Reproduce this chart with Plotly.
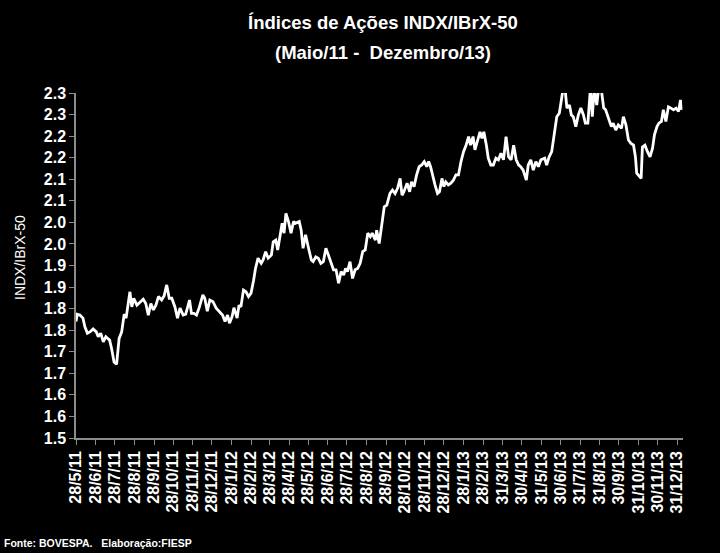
import pandas as pd
import plotly.graph_objects as go

# ---------------- data ----------------
start_date = "2011-05-28"

# calendar days elapsed since start_date for each observation
day_offsets = [
    0, 2, 6, 11, 14, 18, 22, 27, 32, 35, 39, 43, 47, 53, 56, 60, 64, 68, 72, 76,
    79, 82, 85, 88, 91, 96, 101, 106, 110, 114, 118, 122, 126, 130, 135, 139, 143, 147, 151, 156,
    160, 164, 169, 173, 179, 182, 186, 190, 194, 200, 203, 207, 211, 216, 221, 226, 231, 235, 239, 242,
    246, 249,
    254, 257, 260, 264, 268, 272, 276, 280, 283, 287, 292, 295, 299, 303, 308, 311, 315, 318, 322, 325,
    328, 331, 335, 339, 343, 346, 352, 355, 358, 362, 366, 371, 374, 378, 382, 386, 390, 394, 398, 402,
    406, 410, 414, 418, 422, 425, 428, 432, 436, 440, 444, 448, 452, 456, 460, 464, 467, 472, 474, 478,
    482, 486, 490,
    495, 499, 503, 507, 511, 514, 517, 522, 526, 529, 533, 537, 541, 545, 549, 553, 556, 559, 563, 566,
    570, 573, 577, 580, 583, 587, 591, 595, 599, 603, 607, 611, 615, 619, 622, 626, 629, 633, 637, 640,
    643, 647, 650, 654, 658, 662, 666, 670, 674, 678, 682, 686, 690, 694, 698, 701, 705, 710, 713, 717,
    721, 725, 729, 733,
    739, 742, 746, 750, 754, 758, 762, 765, 768, 771, 774, 778, 781, 784, 788, 792, 796, 800, 803, 807,
    811, 814, 817, 821, 824, 828, 832, 835, 839, 844, 847, 851, 855, 860, 863, 867, 871, 875, 879, 882,
    884, 888, 891, 893, 897, 901, 905, 909, 912, 916, 919, 923, 926, 930, 934, 938, 942, 946, 950, 953,
    954,
]

index_values = [
    1.770, 1.787, 1.785, 1.778, 1.758, 1.743, 1.746, 1.753, 1.746, 1.735, 1.743, 1.723, 1.735, 1.727, 1.708, 1.676, 1.671, 1.731, 1.746, 1.787,
    1.778, 1.812, 1.839, 1.804, 1.824, 1.808, 1.816, 1.822, 1.812, 1.785, 1.812, 1.797, 1.808, 1.828, 1.820, 1.830, 1.855, 1.824, 1.824, 1.804,
    1.778, 1.801, 1.785, 1.787, 1.820, 1.789, 1.789, 1.785, 1.801, 1.832, 1.824, 1.794, 1.820, 1.816, 1.801, 1.793, 1.785, 1.770, 1.785, 1.766,
    1.781, 1.802,
    1.778, 1.808, 1.804, 1.843, 1.839, 1.828, 1.836, 1.866, 1.893, 1.917, 1.905, 1.913, 1.932, 1.917, 1.924, 1.955, 1.959, 1.936, 1.967, 1.998,
    1.975, 2.021, 2.002, 1.975, 2.002, 1.998, 2.002, 1.982, 1.940, 1.971, 1.944, 1.913, 1.909, 1.920, 1.917, 1.905, 1.909, 1.940, 1.924, 1.909,
    1.890, 1.890, 1.859, 1.886, 1.878, 1.893, 1.886, 1.909, 1.870, 1.890, 1.893, 1.905, 1.932, 1.936, 1.975, 1.967, 1.975, 1.959, 1.982, 1.951,
    1.998, 2.036, 2.040,
    2.067, 2.075, 2.067, 2.079, 2.102, 2.063, 2.071, 2.091, 2.071, 2.094, 2.083, 2.110, 2.129, 2.133, 2.141, 2.129, 2.141, 2.129, 2.102, 2.087,
    2.067, 2.071, 2.102, 2.083, 2.094, 2.087, 2.091, 2.098, 2.110, 2.110, 2.141, 2.164, 2.179, 2.199, 2.179, 2.199, 2.168, 2.191, 2.210, 2.195,
    2.210, 2.179, 2.149, 2.133, 2.133, 2.149, 2.145, 2.160, 2.145, 2.199, 2.152, 2.145, 2.179, 2.145, 2.133, 2.129, 2.121, 2.098, 2.133, 2.145,
    2.121, 2.141, 2.129, 2.145,
    2.149, 2.133, 2.152, 2.164, 2.203, 2.245, 2.253, 2.284, 2.310, 2.310, 2.265, 2.272, 2.249, 2.245, 2.222, 2.249, 2.265, 2.249, 2.230, 2.230,
    2.310, 2.245, 2.310, 2.272, 2.310, 2.310, 2.265, 2.261, 2.245, 2.222, 2.230, 2.214, 2.226, 2.218, 2.245, 2.226, 2.191, 2.183, 2.179, 2.152,
    2.114, 2.106, 2.102, 2.175, 2.179, 2.164, 2.152, 2.172, 2.203, 2.222, 2.230, 2.234, 2.261, 2.234, 2.268, 2.265, 2.261, 2.265, 2.257, 2.284,
    2.261,
]

x_tick_labels = [
    "28/5/11", "28/6/11", "28/7/11", "28/8/11", "28/9/11", "28/10/11", "28/11/11", "28/12/11",
    "28/1/12", "28/2/12", "28/3/12", "28/4/12", "28/5/12", "28/6/12", "28/7/12", "28/8/12",
    "28/9/12", "28/10/12", "28/11/12", "28/12/12", "28/1/13", "28/2/13", "31/3/13", "30/4/13",
    "31/5/13", "30/6/13", "31/7/13", "31/8/13", "30/9/13", "31/10/13", "30/11/13", "31/12/13",
]

y_tick_values = [1.50, 1.55, 1.60, 1.65, 1.70, 1.75, 1.80, 1.85, 1.90, 1.95,
                 2.00, 2.05, 2.10, 2.15, 2.20, 2.25, 2.30]
y_tick_labels = ["1.5", "1.6", "1.6", "1.7", "1.7", "1.8", "1.8", "1.9", "1.9", "2.0",
                 "2.0", "2.1", "2.1", "2.2", "2.2", "2.3", "2.3"]

title_line1 = "Índices de Ações INDX/IBrX-50"
title_line2 = "(Maio/11 -  Dezembro/13)"
y_title = "INDX/IBrX-50"
source_note = "Fonte: BOVESPA.   Elaboração:FIESP"

# ---------------- figure ----------------
t0 = pd.Timestamp(start_date)
dates = [t0 + pd.Timedelta(days=d) for d in day_offsets]
tick_dates = [pd.to_datetime(s, format="%d/%m/%y") for s in x_tick_labels]
x_end = t0 + pd.Timedelta(days=957)

FONT = "Liberation Sans, Arial, sans-serif"
AXIS_GREY = "#8c8c8c"

fig = go.Figure()
fig.add_trace(go.Scatter(
    x=dates, y=index_values, mode="lines",
    line=dict(color="white", width=2.8),
    showlegend=False, hoverinfo="skip",
))

fig.update_layout(
    width=720, height=553,
    paper_bgcolor="black", plot_bgcolor="black",
    margin=dict(l=76, r=37, t=93, b=115, pad=0),
    showlegend=False,
    xaxis=dict(
        type="date", range=[t0, x_end],
        tickmode="array", tickvals=tick_dates, ticktext=x_tick_labels,
        tickangle=-90,
        tickfont=dict(family=FONT, size=16, color="white", weight="bold"),
        showline=True, linecolor=AXIS_GREY, linewidth=1.5,
        ticks="outside", ticklen=5, tickcolor=AXIS_GREY, tickwidth=1,
        showgrid=False, zeroline=False,
    ),
    yaxis=dict(
        range=[1.5, 2.3],
        tickmode="array", tickvals=y_tick_values, ticktext=y_tick_labels,
        tickfont=dict(family=FONT, size=16, color="white", weight="bold"),
        showline=True, linecolor=AXIS_GREY, linewidth=1.5,
        ticks="outside", ticklen=5, tickcolor=AXIS_GREY, tickwidth=1,
        showgrid=False, zeroline=False,
    ),
    annotations=[
        dict(text=title_line1, xref="paper", yref="paper", x=0.5058, y=1.2029,
             xanchor="center", yanchor="middle", showarrow=False,
             font=dict(family=FONT, size=18.5, color="white", weight="bold")),
        dict(text=title_line2, xref="paper", yref="paper", x=0.5058, y=1.1188,
             xanchor="center", yanchor="middle", showarrow=False,
             font=dict(family=FONT, size=18.5, color="white", weight="bold")),
        dict(text=y_title, xref="paper", yref="paper", x=-0.0923, y=0.5246,
             xanchor="center", yanchor="middle", textangle=-90, showarrow=False,
             font=dict(family=FONT, size=14, color="white")),
        dict(text=source_note, xref="paper", yref="paper", x=-0.1219, y=-0.3043,
             xanchor="left", yanchor="middle", showarrow=False,
             font=dict(family=FONT, size=10.5, color="white", weight="bold")),
    ],
)

fig.write_html("out.html")
